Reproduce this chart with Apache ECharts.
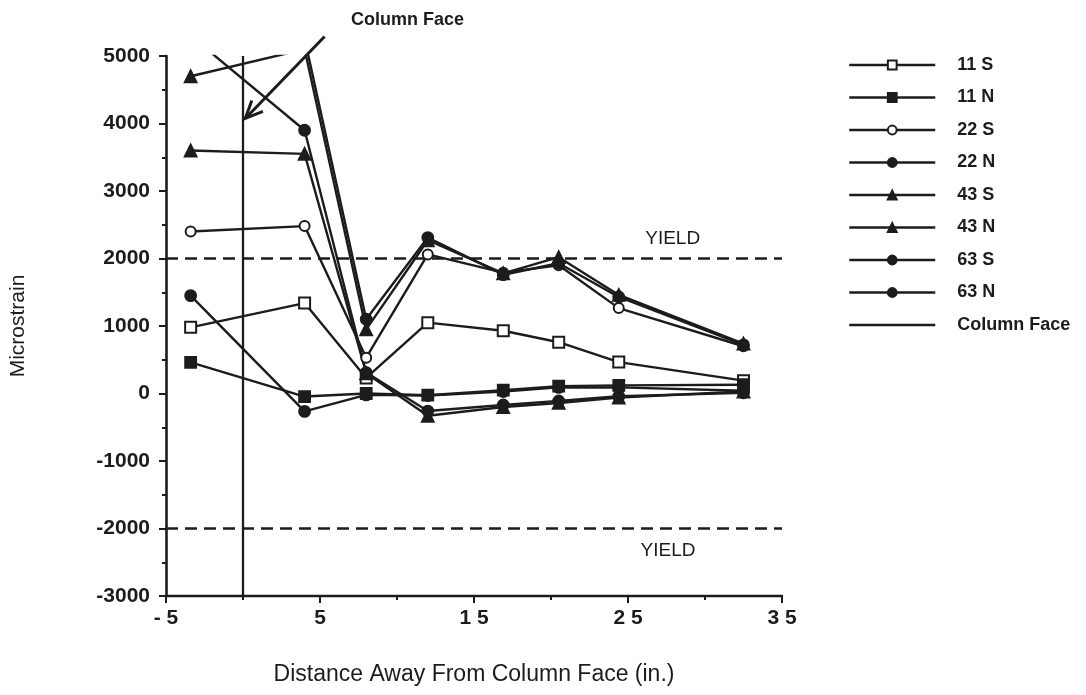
<!DOCTYPE html>
<html>
<head>
<meta charset="utf-8">
<script src="https://cdn.jsdelivr.net/npm/echarts@6/dist/echarts.min.js"></script>
<style>
  html, body { margin: 0; padding: 0; background: #ffffff; }
  #chart { width: 1086px; height: 695px; }
</style>
</head>
<body>
<div id="chart"></div>
<script>
// Gauge locations along the beam (in. from the column face)
const distance = [-3.4, 4, 8, 12, 16.9, 20.5, 24.4, 32.5];

// Measured strains (microstrain) at each gauge location
const s11S = [980, 1340, 230, 1050, 930, 760, 465, 190];
const s11N = [460, -45, 0, -25, 50, 110, 120, 130];
const s22S = [2400, 2480, 530, 2060, 1790, 1900, 1265, 700];
const s22N = [1450, -265, -20, -30, 30, 90, 90, 40];
const s43S = [4700, 5100, 950, 2270, 1780, 2020, 1460, 740];
const s43N = [3600, 3550, 300, -330, -200, -140, -60, 30];
const s63S = [5300, 3900, 310, -260, -170, -110, -40, 10];
const s63N = [5600, 5260, 1100, 2310, 1760, 1930, 1430, 720];

// Column face position and the yield strain limits
const columnFaceX = [0, 0];
const columnFaceY = [-3000, 5000];
const yieldStrain = [2000, -2000];
const yieldLabelX = [27.9, 27.6];

// Axis tick labels
const xTickValues = [-5, 5, 15, 25, 35];
const xTickText = ['- 5', '5', '1 5', '2 5', '3 5'];

// Annotation arrow pointing at the column face (data units: start, tip)
const arrowStart = [5.3, 5290];
const arrowTip = [0.15, 4075];

const FONT = '"Liberation Sans", Arial, Helvetica, sans-serif';
const NARROW = '"Liberation Sans Narrow", "Liberation Sans", Arial, sans-serif';
const INK = '#1c1c1c';

const pairs = (values) => distance.map((d, i) => [d, values[i]]);

const gauges = [
  { name: '11 S', values: s11S, symbol: 'emptyRect', size: 11 },
  { name: '11 N', values: s11N, symbol: 'rect', size: 11 },
  { name: '22 S', values: s22S, symbol: 'emptyCircle', size: 10 },
  { name: '22 N', values: s22N, symbol: 'circle', size: 11 },
  { name: '43 S', values: s43S, symbol: 'triangle', size: 12 },
  { name: '43 N', values: s43N, symbol: 'triangle', size: 12 },
  { name: '63 S', values: s63S, symbol: 'circle', size: 11 },
  { name: '63 N', values: s63N, symbol: 'circle', size: 11 }
];

const series = gauges.map(g => ({
  name: g.name,
  type: 'line',
  data: pairs(g.values),
  symbol: g.symbol,
  symbolSize: g.size,
  showAllSymbol: true,
  clip: true,
  lineStyle: { color: INK, width: 2.4 },
  itemStyle: { color: INK, borderColor: INK, borderWidth: 1.8 },
  emphasis: { disabled: true },
  z: 3
}));

series.push({
  name: 'Column Face',
  type: 'line',
  data: columnFaceX.map((x, i) => [x, columnFaceY[i]]),
  symbol: 'none',
  lineStyle: { color: INK, width: 2.3 },
  itemStyle: { color: INK },
  emphasis: { disabled: true },
  z: 2
});

yieldStrain.forEach((y, i) => {
  series.push({
    name: 'yield' + i,
    type: 'line',
    data: [[-5, y], [35, y]],
    symbol: 'none',
    lineStyle: { color: INK, width: 2.5, type: [12, 7] },
    emphasis: { disabled: true },
    z: 1,
    markPoint: {
      symbol: 'circle',
      symbolSize: 0,
      silent: true,
      data: [{
        coord: [yieldLabelX[i], y],
        label: {
          show: true,
          formatter: 'YIELD',
          position: y > 0 ? 'top' : 'bottom',
          distance: y > 0 ? 10 : 13,
          color: INK,
          fontFamily: NARROW,
          fontSize: 19
        }
      }]
    }
  });
});

const legendNames = gauges.map(g => ({ name: g.name }));
legendNames.push({
  name: 'Column Face',
  itemStyle: { color: 'rgba(0,0,0,0)', borderColor: 'rgba(0,0,0,0)', borderWidth: 0 }
});

const chart = echarts.init(document.getElementById('chart'), null, { renderer: 'canvas' });

chart.setOption({
  animation: false,
  backgroundColor: '#ffffff',
  title: {
    text: 'Column Face',
    left: 346,
    top: 6,
    textStyle: { fontFamily: FONT, fontSize: 18, fontWeight: 'bold', color: INK }
  },
  grid: { left: 163, right: 304, top: 56, bottom: 99, containLabel: false },
  legend: {
    data: legendNames,
    orient: 'vertical',
    left: 843,
    top: 50,
    itemWidth: 86,
    itemHeight: 11,
    itemGap: 12.5,
    selectedMode: false,
    lineStyle: { width: 2.5 },
    textStyle: {
      fontFamily: FONT, fontSize: 18, fontWeight: 'bold', color: INK, lineHeight: 20,
      padding: [0, 0, 0, 17]
    }
  },
  xAxis: {
    type: 'value',
    min: -5,
    max: 35,
    interval: 10,
    name: 'Distance Away From Column Face (in.)',
    nameLocation: 'middle',
    nameGap: 67,
    nameTextStyle: { fontFamily: FONT, fontSize: 23, color: INK },
    axisLine: { show: true, onZero: false, lineStyle: { color: INK, width: 2.4 } },
    axisTick: { show: true, inside: false, length: 7, lineStyle: { color: INK, width: 2 } },
    minorTick: { show: true, splitNumber: 2, length: 4, lineStyle: { color: INK, width: 2 } },
    splitLine: { show: false },
    minorSplitLine: { show: false },
    axisLabel: {
      margin: 12,
      fontFamily: FONT, fontSize: 21, fontWeight: 'bold', color: INK,
      formatter: (v) => {
        const k = xTickValues.indexOf(v);
        return k >= 0 ? xTickText[k] : '';
      }
    }
  },
  yAxis: {
    type: 'value',
    min: -3000,
    max: 5000,
    interval: 1000,
    name: 'Microstrain',
    nameLocation: 'middle',
    nameRotate: 90,
    nameGap: 137,
    nameTextStyle: { fontFamily: FONT, fontSize: 21, color: INK },
    axisLine: { show: true, onZero: false, lineStyle: { color: INK, width: 2.6 } },
    axisTick: { show: true, inside: false, length: 7, lineStyle: { color: INK, width: 2 } },
    minorTick: { show: true, splitNumber: 2, length: 4, lineStyle: { color: INK, width: 2 } },
    splitLine: { show: false },
    minorSplitLine: { show: false },
    axisLabel: {
      margin: 16, fontFamily: FONT, fontSize: 21, fontWeight: 'bold', color: INK,
      formatter: (v) => String(v)
    }
  },
  series: series
});

// Arrow from the "Column Face" caption down to the column face line
function drawArrow() {
  const p0 = chart.convertToPixel({ gridIndex: 0 }, arrowStart);
  const p1 = chart.convertToPixel({ gridIndex: 0 }, arrowTip);
  const ang = Math.atan2(p0[1] - p1[1], p0[0] - p1[0]);
  const len = 19, spread = 0.42;
  const b1 = [p1[0] + len * Math.cos(ang + spread), p1[1] + len * Math.sin(ang + spread)];
  const b2 = [p1[0] + len * Math.cos(ang - spread), p1[1] + len * Math.sin(ang - spread)];
  chart.setOption({
    graphic: [
      {
        type: 'line', silent: true, z: 10,
        shape: { x1: p0[0], y1: p0[1], x2: p1[0], y2: p1[1] },
        style: { stroke: INK, lineWidth: 3 }
      },
      {
        type: 'polyline', silent: true, z: 10,
        shape: { points: [b1, p1, b2] },
        style: { stroke: INK, lineWidth: 3, fill: null }
      }
    ]
  });
}
drawArrow();
</script>
</body>
</html>
